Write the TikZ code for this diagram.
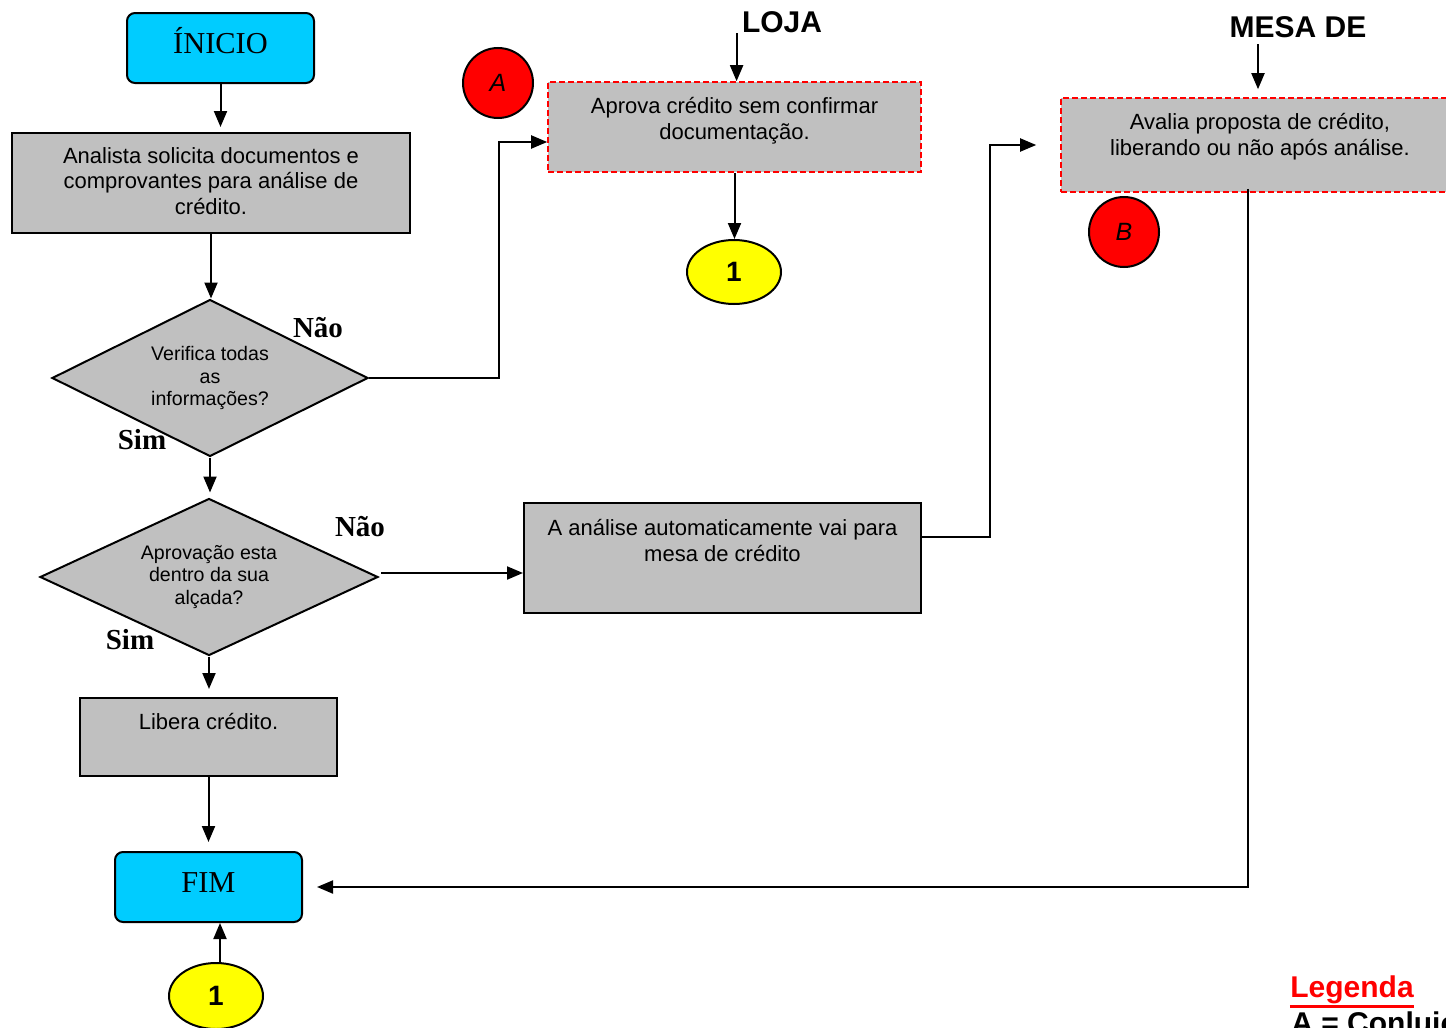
\documentclass[tikz,border=0pt]{standalone}
\usepackage{fontspec}
\setmainfont{Liberation Sans}
\newfontfamily\tms{Liberation Serif}
\usetikzlibrary{positioning,shapes.geometric,arrows.meta}
\definecolor{ciano}{HTML}{00CCFF}
\definecolor{cinza}{HTML}{C0C0C0}
\definecolor{vermelho}{HTML}{FF0000}
\definecolor{amarelo}{HTML}{FFFF00}

\begin{document}
\begin{tikzpicture}[x=0.5pt, y=-0.5pt,
        term/.style={draw, line width=1pt, fill=ciano, rounded corners=4pt, minimum width=93.5pt, minimum height=35pt,
            text height=11pt, text depth=5.6pt, font=\tms\fontsize{15.2}{17}\selectfont},
        caixa/.style={draw, line width=1pt, fill=cinza},
        tracejada/.style={draw=vermelho, line width=0.8pt, dash pattern=on 3pt off 1.5pt, fill=cinza},
        texto/.style={inner sep=0pt, align=center, font=\fontsize{11}{12.7}\selectfont},
        decisao/.style={diamond, aspect=2, draw, line width=1pt, fill=cinza, inner sep=0pt, align=center, font=\fontsize{9.8}{11.25}\selectfont},
        rotulo/.style={inner sep=0pt, font=\tms\bfseries\fontsize{14.5}{16}\selectfont},
        titulo/.style={inner sep=0pt, font=\bfseries\fontsize{15}{17}\selectfont},
        conector/.style={ellipse, draw, line width=1pt, fill=amarelo, minimum width=47pt, minimum height=32pt, font=\bfseries\fontsize{14}{16}\selectfont},
        falha/.style={circle, draw, line width=1pt, fill=vermelho, minimum size=35pt, inner sep=0pt, font=\itshape\fontsize{12.5}{14}\selectfont},
        seta/.style={-{Triangle[length=8pt,width=6.5pt]}, line width=1pt}]
    \useasboundingbox (0,0) rectangle (1446,1028);
    \clip (0,0) rectangle (1446,1028);

    % coluna do analista
    \node[term] (inicio) at (220.5,48) {ÍNICIO};
    \node[caixa, minimum width=199pt, minimum height=50pt] (analista) at (211,183) {};
    \node[texto, below=7.5pt of analista.north] (analistaT) {Analista solicita documentos e\\comprovantes para análise de\\crédito.};
    \node[decisao, minimum width=158pt, minimum height=78.5pt] (verifica) at (210,378) {Verifica todas\\as\\informações?};
    \node[decisao, minimum width=169pt, minimum height=78.5pt] (aprov) at (209,577) {Aprovação esta\\dentro da sua\\alçada?};
    \node[caixa, minimum width=128.5pt, minimum height=39pt] (libera) at (208.5,737) {};
    \node[texto, below=8pt of libera.north] (liberaT) {Libera crédito.};
    \node[term] (fim) at (208.5,887) {FIM};
    \node[conector, minimum height=33pt] (um2) at (216,996) {1};

    \node[rotulo] (nao1) at (318,328) {Não};
    \node[rotulo] (sim1) at (142,440) {Sim};
    \node[rotulo] (nao2) at (360,527) {Não};
    \node[rotulo] (sim2) at (130,640) {Sim};

    % loja
    \node[titulo] (lojaT) at (782,22) {LOJA};
    \node[falha] (fA) at (498,83) {A};
    \node[tracejada, minimum width=186.5pt, minimum height=45pt] (loja) at (734.5,127) {};
    \node[texto, below=8pt of loja.north] (lojaTx) {Aprova crédito sem confirmar\\documentação.};
    \node[conector] (um1) at (734,272) {1};

    \node[caixa, minimum width=198.5pt, minimum height=55pt] (analise) at (722.5,558) {};
    \node[texto, below=8.5pt of analise.north] (analiseT) {A análise automaticamente vai para\\mesa de crédito};

    % mesa de credito
    \node[titulo] (mesaT) at (1298,27) {MESA DE};
    \node[tracejada, minimum width=199pt, minimum height=47pt] (mesa) at (1260,145) {};
    \node[texto, below=8pt of mesa.north] (mesaTx) {Avalia proposta de crédito,\\liberando ou não após análise.};
    \node[falha] (fB) at (1124,232) {B};

    % legenda
    \node[titulo, text=vermelho] (legenda) at (1352,990) {Legenda};
    \draw[vermelho, line width=1.5pt] ([yshift=-1pt]legenda.south west) -- ([yshift=-1pt]legenda.south east);
    \node[titulo, anchor=north west] (legA) at (1291,1011) {A = Conluio};

    % ligacoes
    \draw[seta, shorten >=2.5pt] (inicio.south) -- (inicio.south |- analista.north);
    \draw[seta] (analista.south) -- (analista.south |- verifica.north);
    \draw[seta] (verifica.east) -| ([xshift=-24pt,yshift=-7.5pt]loja.west) -- ([yshift=-7.5pt]loja.west);
    \draw[seta, shorten >=2.5pt] (verifica.south) -- (verifica.south |- aprov.north);
    \draw[seta] ([xshift=1pt,yshift=2pt]aprov.east) -- ([yshift=2pt]aprov.east -| analise.west);
    \draw[seta] ([yshift=10.5pt]analise.east) -| ([xshift=-35pt]mesa.west) -- ([xshift=-12pt]mesa.west);
    \draw[seta, shorten >=4pt] (aprov.south) -- (aprov.south |- libera.north);
    \draw[seta, shorten >=4.5pt] (libera.south) -- (libera.south |- fim.north);
    \draw[seta] ([xshift=2pt]um2.north) -- ([xshift=2pt]um2.north |- fim.south);
    \draw[seta] (loja.south) -- (loja.south |- um1.north);
    \draw[seta] ([xshift=-2.5pt]lojaT.south west) -- ([xshift=-2.5pt]lojaT.south west |- loja.north);
    \draw[seta, shorten <=3pt, shorten >=4pt] ([xshift=-20pt]mesaT.south) -- ([xshift=-20pt]mesaT.south |- mesa.north);
    \draw[seta] ([xshift=-6pt,yshift=2pt]mesa.south) |- ([xshift=7pt]fim.east);
\end{tikzpicture}
\end{document}
